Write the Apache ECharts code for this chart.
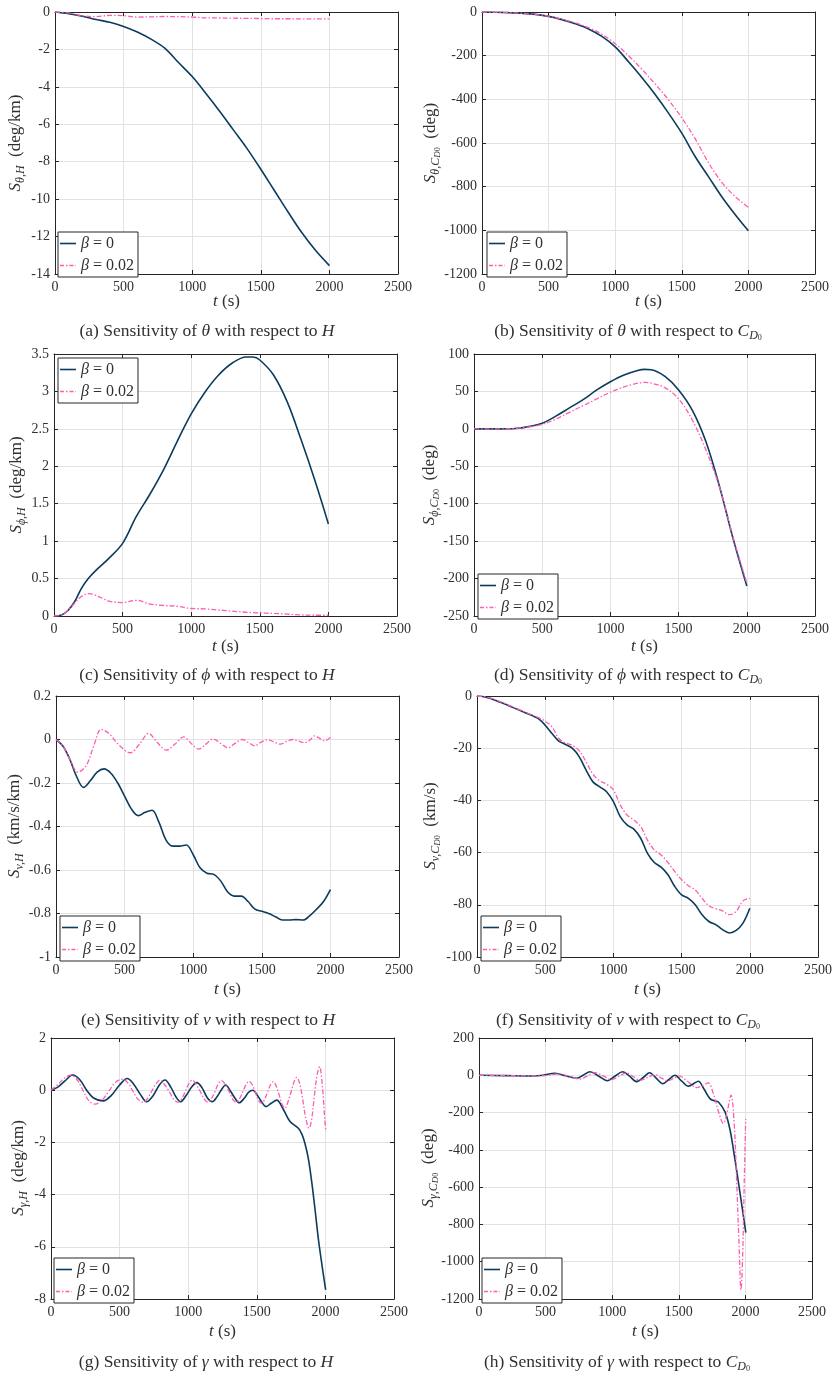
<!DOCTYPE html>
<html>
<head>
<meta charset="utf-8">
<title>Sensitivity plots</title>
<script src="https://cdn.jsdelivr.net/npm/echarts@6/dist/echarts.min.js"></script>
<style>
  html, body { margin: 0; padding: 0; background: #fff; }
  #chart { width: 839px; height: 1378px; }
</style>
</head>
<body>
<div id="chart"></div>
<script>
// ---- data ----
const tStep100 = [0,100,200,300,400,500,600,700,800,900,1000,1100,1200,1300,1400,1500,1600,1700,1800,1900,2000];

// (a) theta wrt H
const a0   = [0,-0.09,-0.23,-0.4,-0.55,-0.77,-1.07,-1.45,-1.93,-2.7,-3.45,-4.35,-5.3,-6.3,-7.3,-8.4,-9.55,-10.7,-11.8,-12.75,-13.55];
const a002 = [0,-0.05,-0.2,-0.25,-0.18,-0.2,-0.27,-0.26,-0.24,-0.25,-0.27,-0.31,-0.32,-0.33,-0.34,-0.35,-0.36,-0.36,-0.37,-0.37,-0.37];

// (b) theta wrt CD0
const b0   = [0,-1,-3,-6,-11,-20,-35,-54,-78,-112,-160,-228,-300,-378,-463,-555,-662,-754,-846,-927,-1002];
const b002 = [0,-1,-3,-6,-11,-19,-33,-50,-72,-102,-145,-200,-262,-330,-402,-485,-580,-690,-780,-845,-895];

// (c) phi wrt H
const tC   = [0,50,100,150,200,250,300,400,500,600,700,800,900,1000,1100,1200,1300,1400,1450,1500,1600,1700,1800,1900,2000];
const c0   = [0,0.01,0.07,0.19,0.37,0.5,0.6,0.77,0.97,1.33,1.63,1.96,2.34,2.7,2.99,3.22,3.38,3.46,3.46,3.42,3.22,2.86,2.36,1.82,1.23];
const c002 = [0,0.01,0.07,0.17,0.26,0.3,0.28,0.2,0.18,0.21,0.16,0.14,0.13,0.1,0.095,0.08,0.065,0.05,0.045,0.04,0.035,0.025,0.015,0.01,0.01];

// (d) phi wrt CD0
const tD   = [0,100,200,300,400,500,600,700,800,900,1000,1100,1200,1250,1300,1400,1500,1600,1700,1800,1900,2000];
const d0   = [0,0,0,0.5,3,7.5,17,28,39,52,63,72,78,79.5,79,70,52,25,-17,-77,-147,-210];
const d002 = [0,0,0,0.5,2.5,6,13,22,31,40,49,56,61,62,61,55,40,12,-28,-78,-145,-206];

// (e) v wrt H
const tStep50 = [0,50,100,150,200,250,300,350,400,450,500,550,600,650,700,750,800,850,900,950,1000,1050,1100,1150,1200,1250,1300,1350,1400,1450,1500,1550,1600,1650,1700,1750,1800,1850,1900,1950,2000];
const e0   = [0,-0.03,-0.09,-0.17,-0.22,-0.19,-0.15,-0.135,-0.155,-0.2,-0.26,-0.32,-0.35,-0.335,-0.325,-0.38,-0.46,-0.49,-0.49,-0.485,-0.53,-0.59,-0.615,-0.62,-0.65,-0.7,-0.72,-0.72,-0.745,-0.78,-0.79,-0.8,-0.815,-0.83,-0.83,-0.828,-0.83,-0.81,-0.78,-0.745,-0.69];
const tE2  = [0,50,100,160,220,275,330,390,450,542,610,675,740,804,870,930,985,1040,1095,1145,1200,1254,1305,1360,1405,1448,1495,1545,1590,1635,1680,1727,1770,1812,1850,1885,1920,1958,2000];
const e002 = [0,-0.03,-0.09,-0.15,-0.12,-0.03,0.047,0.025,-0.02,-0.061,-0.02,0.028,-0.015,-0.049,-0.02,0.012,-0.018,-0.044,-0.02,0.002,-0.018,-0.038,-0.018,0,-0.015,-0.029,-0.012,-0.001,-0.012,-0.021,-0.009,0,-0.008,-0.015,-0.003,0.017,0.006,-0.006,0.01];

// (f) v wrt CD0
const f0   = [0,-0.3,-1,-2,-3,-4.1,-5.2,-6.3,-7.4,-8.7,-11.2,-14.4,-17.3,-18.6,-20.1,-23.3,-28.4,-32.9,-34.8,-36.7,-40.5,-46.2,-49.4,-51,-54.5,-60.3,-63.8,-65.6,-68.5,-73,-76.2,-77.5,-80,-83.8,-86.4,-87.6,-89.5,-90.8,-89.8,-87,-81.3];
const f002 = [0,-0.25,-0.8,-1.8,-2.8,-3.9,-5,-6.1,-7.2,-8.3,-9.7,-11.8,-16.3,-18,-18.9,-21,-25.2,-30,-32.5,-33.8,-36,-41.7,-45.6,-47.5,-50,-55.2,-59,-60.9,-63.8,-67.3,-70.4,-72.7,-74.3,-77.5,-80.4,-81.5,-82.3,-83.8,-82.5,-78.5,-77.5];

// (g) gamma wrt H
const tG0  = [0,50,100,158,210,260,310,381,440,500,556,600,650,697,745,790,831,875,910,945,985,1025,1062,1100,1140,1176,1210,1240,1273,1310,1340,1372,1410,1440,1470,1505,1535,1567,1605,1645,1690,1742,1803,1830,1851,1875,1900,1925,1950,1975,2002];
const g0   = [0,0.12,0.35,0.58,0.4,0,-0.3,-0.41,-0.2,0.2,0.45,0.25,-0.15,-0.44,-0.2,0.2,0.39,0.1,-0.25,-0.44,-0.2,0.12,0.29,0.1,-0.3,-0.44,-0.25,0,0.2,-0.05,-0.3,-0.48,-0.3,-0.08,0,-0.2,-0.45,-0.63,-0.5,-0.38,-0.7,-1.2,-1.46,-1.7,-2.04,-2.6,-3.5,-4.6,-5.75,-6.7,-7.65];
const tG2  = [0,50,95,143,190,232,275,321,370,420,470,522,565,598,635,673,705,733,765,794,830,861,895,928,955,979,1005,1030,1060,1088,1118,1147,1172,1195,1220,1244,1272,1298,1325,1353,1377,1399,1422,1445,1468,1490,1513,1536,1557,1578,1599,1620,1642,1663,1685,1706,1727,1748,1770,1791,1813,1836,1858,1881,1900,1920,1940,1958,1972,1985,1995,2004];
const g002 = [0,0.22,0.45,0.58,0.4,0,-0.4,-0.53,-0.4,-0.05,0.3,0.42,0.25,-0.05,-0.35,-0.46,-0.3,-0.05,0.25,0.39,0.2,-0.05,-0.35,-0.46,-0.3,-0.05,0.25,0.39,0.2,-0.05,-0.35,-0.46,-0.3,-0.05,0.25,0.37,0.2,-0.05,-0.35,-0.46,-0.3,-0.05,0.22,0.34,0.2,-0.08,-0.4,-0.5,-0.35,-0.08,0.2,0.33,0.15,-0.18,-0.55,-0.69,-0.45,-0.1,0.3,0.49,0.25,-0.4,-1.1,-1.46,-1.1,-0.2,0.6,0.9,0.5,-0.3,-1.1,-1.59];

// (h) gamma wrt CD0
const tH0  = [0,200,400,480,571,650,733,785,833,900,963,1020,1079,1130,1184,1240,1280,1330,1380,1430,1471,1520,1571,1610,1646,1690,1734,1770,1797,1847,1885,1922,1960,2003];
const h0   = [0,-2,-4,0,11,-3,-16,2,19,-5,-29,-5,19,-5,-34,-8,14,-15,-45,-20,0,-30,-59,-45,-32,-75,-125,-138,-143,-196,-294,-454,-633,-844];
const tH2  = [0,200,450,520,560,608,680,758,815,871,935,996,1050,1109,1160,1209,1270,1320,1370,1421,1465,1504,1570,1634,1680,1721,1760,1800,1834,1862,1892,1915,1935,1952,1967,1980,1992,2002];
const h002 = [0,-2,-3,0,5,8,-8,-20,-3,14,-5,-24,-5,12,-8,-27,-10,3,-15,-30,-15,-4,-35,-66,-55,-41,-100,-200,-258,-200,-107,-250,-579,-900,-1150,-950,-550,-235];

const legendNames = ['β = 0', 'β = 0.02'];
const xTicks = { min: 0, max: 2500, interval: 500 };

// ---- styling ----
const FONT = 'Liberation Serif';
const BLUE = '#0b3b5d';
const PINK = '#ff5cb2';
const AXIS = '#262626';
const TEXT = '#303030';
const GRIDC = '#e2e2e2';

// legend icons: solid line and dash-dot line
const ICON_SOLID = 'path://M0 0h16v1.6H0z';
const ICON_DASHDOT = 'path://M0 0h4v1.4H0zM6 0h1.5v1.4H6zM9.5 0h4v1.4H9.5zM15.5 0h0.5v1.4H15.5z';

function zip(t, v) { return t.map((x, i) => [x, v[i]]); }
function fmt(v) { return String(+v.toFixed(6)); }

function richStyles(fillKey, size) {
  // fillKey: 'color' for echarts text models, 'fill' for graphic text
  const mk = (o) => { o[fillKey] = TEXT; o.fontFamily = FONT; return o; };
  return {
    i: mk({ fontStyle: 'italic', fontSize: size, lineHeight: size + 5 }),
    sub: mk({ fontStyle: 'italic', fontSize: Math.round(size * 0.7), lineHeight: Math.round(size * 0.8), verticalAlign: 'bottom' }),
    ssub: mk({ fontStyle: 'italic', fontSize: Math.round(size * 0.55), lineHeight: Math.round(size * 0.6), verticalAlign: 'bottom' }),
    s3: mk({ fontSize: Math.round(size * 0.47), lineHeight: Math.round(size * 0.47), verticalAlign: 'bottom' }),
    n: mk({ fontSize: size, lineHeight: size + 5 })
  };
}

const panels = [
  { grid: [55, 12, 343, 262], y: [-14, 0, 2], yName: '{i|S}{sub|θ,H}{n|  (deg/km)}', yLab: [16, 143], xLab: 302,
    s0: zip(tStep100, a0), s2: zip(tStep100, a002), leg: [58, 232],
    cap: '{n|(a) Sensitivity of }{i|θ}{n| with respect to }{i|H}', capXY: [207, 331] },
  { grid: [482, 12, 333, 262], y: [-1200, 0, 200], yName: '{i|S}{sub|θ,C}{ssub|D}{s3|0}{n|  (deg)}', yLab: [431, 143], xLab: 302,
    s0: zip(tStep100, b0), s2: zip(tStep100, b002), leg: [487, 232],
    cap: '{n|(b) Sensitivity of }{i|θ}{n| with respect to }{i|C}{sub|D}{s3|0}', capXY: [628, 331] },
  { grid: [54, 354, 343, 262], y: [0, 3.5, 0.5], yName: '{i|S}{sub|ϕ,H}{n|  (deg/km)}', yLab: [17, 485], xLab: 647,
    s0: zip(tC, c0), s2: zip(tC, c002), leg: [58, 358],
    cap: '{n|(c) Sensitivity of }{i|ϕ}{n| with respect to }{i|H}', capXY: [207, 675] },
  { grid: [474, 354, 341, 262], y: [-250, 100, 50], yName: '{i|S}{sub|ϕ,C}{ssub|D}{s3|0}{n|  (deg)}', yLab: [430, 485], xLab: 647,
    s0: zip(tD, d0), s2: zip(tD, d002), leg: [478, 574],
    cap: '{n|(d) Sensitivity of }{i|ϕ}{n| with respect to }{i|C}{sub|D}{s3|0}', capXY: [628, 675] },
  { grid: [56, 696, 343, 261], y: [-1, 0.2, 0.2], yName: '{i|S}{sub|v,H}{n|  (km/s/km)}', yLab: [15, 826], xLab: 990,
    s0: zip(tStep50, e0), s2: zip(tE2, e002), leg: [60, 916],
    cap: '{n|(e) Sensitivity of }{i|v}{n| with respect to }{i|H}', capXY: [208, 1020] },
  { grid: [477, 696, 341, 261], y: [-100, 0, 20], yName: '{i|S}{sub|v,C}{ssub|D}{s3|0}{n|  (km/s)}', yLab: [431, 826], xLab: 990,
    s0: zip(tStep50, f0), s2: zip(tStep50, f002), leg: [481, 916],
    cap: '{n|(f) Sensitivity of }{i|v}{n| with respect to }{i|C}{sub|D}{s3|0}', capXY: [628, 1020] },
  { grid: [51, 1038, 343, 261], y: [-8, 2, 2], yName: '{i|S}{sub|γ,H}{n|  (deg/km)}', yLab: [19, 1168], xLab: 1332,
    s0: zip(tG0, g0), s2: zip(tG2, g002), leg: [54, 1258],
    cap: '{n|(g) Sensitivity of }{i|γ}{n| with respect to }{i|H}', capXY: [206, 1362] },
  { grid: [479, 1038, 333, 261], y: [-1200, 200, 200], yName: '{i|S}{sub|γ,C}{ssub|D}{s3|0}{n|  (deg)}', yLab: [429, 1168], xLab: 1332,
    s0: zip(tH0, h0), s2: zip(tH2, h002), leg: [482, 1258],
    cap: '{n|(h) Sensitivity of }{i|γ}{n| with respect to }{i|C}{sub|D}{s3|0}', capXY: [617, 1362] }
];

const option = {
  animation: false,
  backgroundColor: '#fff',
  textStyle: { fontFamily: FONT },
  grid: [], xAxis: [], yAxis: [], legend: [], series: [], graphic: []
};

const axisLine = { show: true, onZero: false, lineStyle: { color: AXIS, width: 1 } };
const tick = { show: true, inside: true, length: 4, lineStyle: { color: AXIS } };

function label(text, x, y, rot, size) {
  return {
    type: 'text', x: x, y: y, rotation: rot || 0,
    style: {
      text: text, align: 'center', verticalAlign: 'middle',
      fontFamily: FONT, fontSize: size, fill: TEXT, rich: richStyles('fill', size)
    }
  };
}

panels.forEach((p, i) => {
  option.grid.push({ left: p.grid[0], top: p.grid[1], width: p.grid[2], height: p.grid[3], containLabel: false });

  // bottom x axis + top mirror (box)
  option.xAxis.push({
    gridIndex: i, type: 'value', position: 'bottom', ...xTicks,
    axisLine, axisTick: tick,
    axisLabel: { color: TEXT, fontSize: 14, fontFamily: FONT, margin: 6, formatter: fmt },
    splitLine: { show: true, lineStyle: { color: GRIDC, width: 1 } }
  });
  option.xAxis.push({
    gridIndex: i, type: 'value', position: 'top', ...xTicks,
    axisLine, axisTick: tick, axisLabel: { show: false }, splitLine: { show: false }
  });

  // left y axis + right mirror (box)
  option.yAxis.push({
    gridIndex: i, type: 'value', position: 'left', min: p.y[0], max: p.y[1], interval: p.y[2],
    axisLine, axisTick: tick,
    axisLabel: { color: TEXT, fontSize: 14, fontFamily: FONT, margin: 5, formatter: fmt },
    splitLine: { show: true, lineStyle: { color: GRIDC, width: 1 } }
  });
  option.yAxis.push({
    gridIndex: i, type: 'value', position: 'right', min: p.y[0], max: p.y[1], interval: p.y[2],
    axisLine, axisTick: tick, axisLabel: { show: false }, splitLine: { show: false }
  });

  option.series.push({
    name: legendNames[0], type: 'line', xAxisIndex: 2 * i, yAxisIndex: 2 * i,
    data: p.s0, symbol: 'none', smooth: 0.35,
    lineStyle: { color: BLUE, width: 1.6 }, itemStyle: { color: BLUE }, z: 3
  });
  option.series.push({
    name: legendNames[1], type: 'line', xAxisIndex: 2 * i, yAxisIndex: 2 * i,
    data: p.s2, symbol: 'none', smooth: 0.35,
    lineStyle: { color: PINK, width: 1.3, type: [5, 2, 1.5, 2] }, itemStyle: { color: PINK }, z: 4
  });

  option.legend.push({
    left: p.leg[0], top: p.leg[1], orient: 'vertical',
    data: [
      { name: legendNames[0], icon: ICON_SOLID },
      { name: legendNames[1], icon: ICON_DASHDOT }
    ],
    backgroundColor: '#fff', borderColor: AXIS, borderWidth: 1, borderRadius: 0,
    padding: [1, 4, 1, 2], itemGap: 1, itemWidth: 16, itemHeight: 12, selectedMode: false,
    textStyle: { color: TEXT, fontSize: 16, fontFamily: FONT, lineHeight: 17, rich: richStyles('color', 16) },
    formatter: (name) => name === legendNames[0] ? '{i|β}{n| = 0}' : '{i|β}{n| = 0.02}'
  });

  // axis titles and caption
  const cx = p.grid[0] + p.grid[2] / 2;
  option.graphic.push(label(p.yName, p.yLab[0], p.yLab[1], Math.PI / 2, 17));
  option.graphic.push(label('{i|t}{n| (s)}', cx, p.xLab, 0, 17));
  option.graphic.push(label(p.cap, p.capXY[0], p.capXY[1], 0, 17.5));
});

const chart = echarts.init(document.getElementById('chart'));
chart.setOption(option);
</script>
</body>
</html>
